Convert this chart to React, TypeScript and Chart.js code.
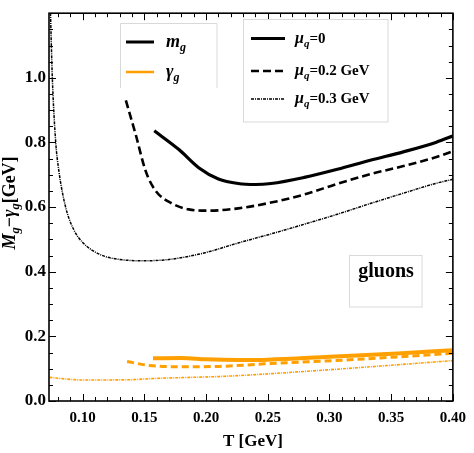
import { useEffect, useRef } from "react";
import { Chart, registerables } from "chart.js";

Chart.register(...registerables);

// ---- data ----
// m_g, mu_q = 0
const T_M_MU0 = [0.158, 0.178, 0.194, 0.21, 0.226, 0.24, 0.2526, 0.2796, 0.3064, 0.3331, 0.3599, 0.3867, 0.4];
const M_MU0 = [0.836, 0.778, 0.722, 0.687, 0.673, 0.67, 0.673, 0.692, 0.717, 0.745, 0.771, 0.801, 0.82];
// m_g, mu_q = 0.2 GeV
const T_M_MU02 = [0.135, 0.143, 0.151, 0.159, 0.1725, 0.186, 0.202, 0.226, 0.2526, 0.2796, 0.3064, 0.3331, 0.3599, 0.3867, 0.4];
const M_MU02 = [0.93, 0.824, 0.712, 0.651, 0.611, 0.593, 0.589, 0.596, 0.614, 0.639, 0.672, 0.702, 0.727, 0.755, 0.773];
// m_g, mu_q = 0.3 GeV
const T_M_MU03 = [0.0739, 0.0754, 0.0781, 0.0807, 0.0861, 0.0928, 0.1002, 0.1137, 0.1321, 0.1512, 0.1723, 0.1993, 0.226, 0.2526, 0.2796, 0.3064, 0.3331, 0.3599, 0.3867, 0.4];
const M_MU03 = [1.2, 1.0, 0.803, 0.712, 0.601, 0.53, 0.49, 0.454, 0.437, 0.434, 0.439, 0.459, 0.489, 0.517, 0.547, 0.578, 0.611, 0.643, 0.674, 0.686];
// gamma_g, mu_q = 0
const T_G_MU0 = [0.157, 0.18, 0.2, 0.226, 0.25, 0.3, 0.355, 0.4];
const G_MU0 = [0.132, 0.133, 0.129, 0.127, 0.128, 0.137, 0.147, 0.157];
// gamma_g, mu_q = 0.2 GeV
const T_G_MU02 = [0.136, 0.154, 0.18, 0.21, 0.2475, 0.328, 0.4];
const G_MU02 = [0.122, 0.11, 0.106, 0.107, 0.115, 0.13, 0.148];
// gamma_g, mu_q = 0.3 GeV
const T_G_MU03 = [0.073, 0.1, 0.14, 0.154, 0.218, 0.274, 0.33, 0.4];
const G_MU03 = [0.073, 0.065, 0.066, 0.069, 0.077, 0.09, 0.105, 0.125];

const X_TICKS = [0.1, 0.15, 0.2, 0.25, 0.3, 0.35, 0.4];
const Y_TICKS = [0.0, 0.2, 0.4, 0.6, 0.8, 1.0];
const X_MINOR_STEP = 0.01;
const Y_MINOR_STEP = 0.05;
const X_MIN = 0.0727;
const X_MAX = 0.4;
const Y_MIN = 0;
const Y_MAX = 1.2;

const BLACK = "#000000";
const ORANGE = "#FFA000";
const SERIF = '"Liberation Serif", "Times New Roman", serif';

const SOLID: number[] = [];
const DASHED = [8, 4];
const ODASHED = [7, 4];
const DOTDASH = [3, 1, 1, 1];

type Run = { t: string; italic?: boolean; size: number; dy?: number };

function fontOf(r: Run) {
  return `${r.italic ? "italic " : ""}bold ${r.size}px ${SERIF}`;
}

function drawRuns(ctx: CanvasRenderingContext2D, runs: Run[], x: number, y: number, align: "left" | "center" = "left") {
  const widths = runs.map((r) => {
    ctx.font = fontOf(r);
    return ctx.measureText(r.t).width;
  });
  const total = widths.reduce((a, b) => a + b, 0);
  let cx = align === "center" ? x - total / 2 : x;
  ctx.textAlign = "left";
  ctx.textBaseline = "alphabetic";
  runs.forEach((r, i) => {
    ctx.font = fontOf(r);
    ctx.fillText(r.t, cx, y + (r.dy || 0));
    cx += widths[i];
  });
}

function pts(xs: number[], ys: number[]) {
  return xs.map((x, i) => ({ x, y: ys[i] }));
}

const framePlugin = {
  id: "frameAndNotes",
  afterDatasetsDraw(chart: any) {
    const ctx: CanvasRenderingContext2D = chart.ctx;
    const { left, right, top, bottom } = chart.chartArea;
    const xs = chart.scales.x;
    const ys = chart.scales.y;
    ctx.save();
    ctx.strokeStyle = BLACK;
    ctx.fillStyle = BLACK;

    // ticks (inside, all four sides)
    ctx.lineWidth = 1;
    const xTick = (v: number, len: number) => {
      const p = Math.round(xs.getPixelForValue(v)) + 0.5;
      ctx.beginPath();
      ctx.moveTo(p, bottom);
      ctx.lineTo(p, bottom - len);
      ctx.moveTo(p, top);
      ctx.lineTo(p, top + len);
      ctx.stroke();
    };
    const yTick = (v: number, len: number) => {
      const p = Math.round(ys.getPixelForValue(v)) + 0.5;
      ctx.beginPath();
      ctx.moveTo(left, p);
      ctx.lineTo(left + len, p);
      ctx.moveTo(right, p);
      ctx.lineTo(right - len, p);
      ctx.stroke();
    };
    for (let k = Math.ceil(X_MIN / X_MINOR_STEP); k * X_MINOR_STEP < X_MAX - 1e-9; k++) {
      xTick(k * X_MINOR_STEP, 4);
    }
    X_TICKS.forEach((v) => xTick(v, 7));
    for (let k = 1; k * Y_MINOR_STEP < Y_MAX - 1e-9; k++) {
      yTick(k * Y_MINOR_STEP, 4);
    }
    Y_TICKS.forEach((v) => yTick(v, 7));

    // frame
    ctx.lineWidth = 1.6;
    ctx.strokeRect(left, top, right - left, bottom - top);

    // legend box 1 (m_g / gamma_g)
    ctx.fillStyle = "#ffffff";
    ctx.fillRect(120.5, 23.5, 96.5, 64.5);
    ctx.strokeStyle = "#d9d9d9";
    ctx.lineWidth = 1;
    ctx.beginPath();
    ctx.moveTo(120.5, 88);
    ctx.lineTo(120.5, 23.5);
    ctx.lineTo(217, 23.5);
    ctx.lineTo(217, 88);
    ctx.stroke();

    ctx.lineCap = "butt";
    ctx.setLineDash(SOLID);
    ctx.strokeStyle = BLACK;
    ctx.lineWidth = 3;
    ctx.beginPath();
    ctx.moveTo(126, 42);
    ctx.lineTo(154, 42);
    ctx.stroke();
    ctx.strokeStyle = ORANGE;
    ctx.lineWidth = 2.5;
    ctx.beginPath();
    ctx.moveTo(126, 72);
    ctx.lineTo(154, 72);
    ctx.stroke();
    ctx.fillStyle = BLACK;
    drawRuns(ctx, [
      { t: "m", italic: true, size: 18 },
      { t: "g", italic: true, size: 12, dy: 4 },
    ], 166, 47);
    drawRuns(ctx, [
      { t: "γ", italic: true, size: 18 },
      { t: "g", italic: true, size: 12, dy: 4 },
    ], 166, 77);

    // legend box 2 (mu_q)
    ctx.fillStyle = "#ffffff";
    ctx.fillRect(243.5, 19.5, 144.5, 102.5);
    ctx.strokeStyle = "#d9d9d9";
    ctx.lineWidth = 1;
    ctx.strokeRect(243.5, 19.5, 144.5, 102.5);

    ctx.strokeStyle = BLACK;
    const sample = (y: number, w: number, dash: number[]) => {
      ctx.lineWidth = w;
      ctx.setLineDash(dash);
      ctx.beginPath();
      ctx.moveTo(251, y);
      ctx.lineTo(285, y);
      ctx.stroke();
    };
    sample(38.5, 3, SOLID);
    sample(71, 2.5, DASHED);
    sample(99, 1.4, DOTDASH);
    ctx.setLineDash([]);
    ctx.fillStyle = BLACK;
    const muLabel = (rest: string, y: number) =>
      drawRuns(ctx, [
        { t: "μ", italic: true, size: 16 },
        { t: "q", italic: true, size: 11, dy: 4 },
        { t: rest, size: 15 },
      ], 295, y);
    muLabel("=0", 43);
    muLabel("=0.2 GeV", 75);
    muLabel("=0.3 GeV", 103);

    // "gluons" box
    ctx.fillStyle = "#ffffff";
    ctx.fillRect(349.5, 255.5, 72.5, 51.5);
    ctx.strokeStyle = "#d9d9d9";
    ctx.lineWidth = 1;
    ctx.strokeRect(349.5, 255.5, 72.5, 51.5);
    ctx.fillStyle = BLACK;
    drawRuns(ctx, [{ t: "gluons", size: 20 }], 386, 277, "center");

    // axis titles
    drawRuns(ctx, [{ t: "T [GeV]", size: 17 }], 253, 446, "center");
    ctx.save();
    ctx.translate(15, 203);
    ctx.rotate(-Math.PI / 2);
    drawRuns(ctx, [
      { t: "M", italic: true, size: 18 },
      { t: "g", italic: true, size: 12.5, dy: 4 },
      { t: "−", size: 18 },
      { t: "γ", italic: true, size: 18 },
      { t: "g", italic: true, size: 12.5, dy: 4 },
      { t: "[GeV]", size: 18 },
    ], 0, 0, "center");
    ctx.restore();

    ctx.restore();
  },
};

export default function App() {
  const canvasRef = useRef<HTMLCanvasElement | null>(null);

  useEffect(() => {
    const canvas = canvasRef.current;
    if (!canvas) return;
    const line = (xs: number[], ys: number[], color: string, width: number, dash: number[]) => ({
      data: pts(xs, ys),
      borderColor: color,
      borderWidth: width,
      borderDash: dash,
      pointRadius: 0,
      fill: false,
      cubicInterpolationMode: "monotone" as const,
      borderCapStyle: "butt" as const,
    });
    const chart = new Chart(canvas, {
      type: "line",
      data: {
        datasets: [
          line(T_M_MU03, M_MU03, BLACK, 1.5, DOTDASH),
          line(T_M_MU02, M_MU02, BLACK, 2.6, DASHED),
          line(T_M_MU0, M_MU0, BLACK, 3.2, SOLID),
          line(T_G_MU03, G_MU03, ORANGE, 1.6, DOTDASH),
          line(T_G_MU02, G_MU02, ORANGE, 3, ODASHED),
          line(T_G_MU0, G_MU0, ORANGE, 4, SOLID),
        ],
      },
      options: {
        animation: false,
        responsive: false,
        devicePixelRatio: 1,
        layout: { padding: { top: 5, right: 16, left: 0, bottom: 0 } },
        plugins: {
          legend: { display: false },
          tooltip: { enabled: false },
          title: { display: false },
        },
        events: [],
        scales: {
          x: {
            type: "linear",
            min: X_MIN,
            max: X_MAX,
            grid: { display: false, drawTicks: false },
            border: { display: false },
            ticks: {
              color: BLACK,
              padding: 8,
              maxRotation: 0,
              autoSkip: false,
              font: { family: SERIF, size: 15, weight: "bold" },
              callback: (v: any) => Number(v).toFixed(2),
            },
            afterBuildTicks: (s: any) => {
              s.ticks = X_TICKS.map((v) => ({ value: v }));
            },
            afterFit: (s: any) => {
              s.height = 52;
            },
          },
          y: {
            type: "linear",
            min: Y_MIN,
            max: Y_MAX,
            grid: { display: false, drawTicks: false },
            border: { display: false },
            ticks: {
              color: BLACK,
              padding: 3,
              autoSkip: false,
              font: { family: SERIF, size: 17, weight: "bold" },
              callback: (v: any) => Number(v).toFixed(1),
            },
            afterBuildTicks: (s: any) => {
              s.ticks = Y_TICKS.map((v) => ({ value: v }));
            },
            afterFit: (s: any) => {
              s.width = 49;
            },
          },
        },
      },
      plugins: [framePlugin],
    } as any);
    return () => chart.destroy();
  }, []);

  return (
    <div style={{ position: "fixed", left: 0, top: 0, width: 474, height: 453, background: "#fff" }}>
      <canvas ref={canvasRef} width={474} height={453} style={{ width: 474, height: 453, display: "block" }} />
    </div>
  );
}
